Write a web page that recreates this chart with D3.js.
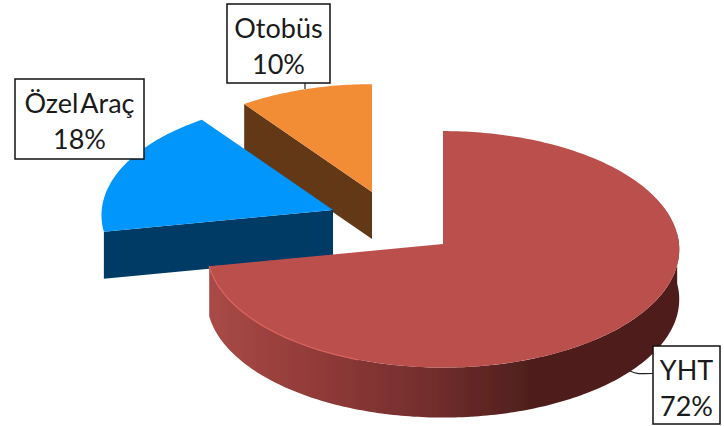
<!DOCTYPE html>
<html>
<head>
<meta charset="utf-8">
<script src="https://cdn.jsdelivr.net/npm/d3@7"></script>
<style>
  html, body { margin: 0; padding: 0; background: #fff; }
  svg { display: block; }
  text { font-family: Lato, "Noto Sans", sans-serif; font-size: 27px; fill: #1a1a1a; }
</style>
</head>
<body>
<script>
// chart values
var categories = ["YHT", "Özel Araç", "Otobüs"];
var shares = [72, 18, 10];
var valueLabels = ["72%", "18%", "10%"];

var width = 724,
    height = 426;

// pie look: each slice is pulled away from the centre by hand
var rx = 236,
    ry = 118,
    persp = 0.045;

var sliceStyle = [
    { apex: [443, 244], scale: 1, depth: 50, top: "#bb4f4c", side: "url(#wallRed)" },
    { apex: [333, 210], scale: 0.98, depth: 47, top: "#0096fb", side: "#003a66" },
    { apex: [372, 192], scale: 0.955, depth: 47, top: "#f28c36", side: "#643815" }
];

var boxes = [
    { x: 653, y: 346, w: 67, h: 78 },
    { x: 15, y: 79, w: 129, h: 80 },
    { x: 227, y: 4, w: 103, h: 79 }
];

var svg = d3.select("body").append("svg")
    .attr("width", width)
    .attr("height", height);

var defs = svg.append("defs");

var wall = defs.append("linearGradient")
    .attr("id", "wallRed")
    .attr("gradientUnits", "userSpaceOnUse")
    .attr("x1", 210).attr("y1", 0)
    .attr("x2", 680).attr("y2", 0);
[[0, "#a94a46"], [0.22, "#923b39"], [0.48, "#712d2c"], [0.68, "#4f1f1d"], [1, "#4f1f1d"]].forEach(function (s) {
    wall.append("stop").attr("offset", s[0]).attr("stop-color", s[1]);
});

defs.append("filter").attr("id", "soft")
    .append("feGaussianBlur").attr("stdDeviation", 0.7);

var pie = d3.pie().sort(null).startAngle(0).endAngle(2 * Math.PI);
var arcs = pie(shares);

// tilted disc with a little perspective, back of the pie comes out smaller
function project(a, st, drop) {
    var s = st.scale / (1 + persp * Math.cos(a));
    return [
        st.apex[0] + rx * s * Math.sin(a),
        st.apex[1] - ry * s * Math.cos(a) + (drop || 0)
    ];
}

function rim(a0, a1, st, drop) {
    var n = Math.max(2, Math.ceil(Math.abs(a1 - a0) * 60));
    return d3.range(n + 1).map(function (i) {
        return project(a0 + (a1 - a0) * i / n, st, drop);
    });
}

var line = d3.line();
var pies = svg.append("g").attr("filter", "url(#soft)");

// back slices first, red one goes on top
[2, 1, 0].forEach(function (i) {
    var d = arcs[i],
        st = sliceStyle[i],
        g = pies.append("g").attr("class", "slice");

    if (i === 0) {
        // outer wall of the big slice, only the front part shows
        var a0 = 85 * Math.PI / 180;
        var upper = rim(a0, d.endAngle, st, 0);
        var lower = rim(d.endAngle, a0, st, st.depth);
        g.append("path")
            .attr("d", line(upper.concat(lower)) + "Z")
            .attr("fill", st.side);
    } else {
        // cut face that looks at the viewer
        var outer = project(d.startAngle, st, 0);
        var outerLow = project(d.startAngle, st, st.depth);
        g.append("path")
            .attr("d", line([st.apex, outer, outerLow, [st.apex[0], st.apex[1] + st.depth]]) + "Z")
            .attr("fill", st.side);
    }

    g.append("path")
        .attr("d", line([st.apex].concat(rim(d.startAngle, d.endAngle, st, 0))) + "Z")
        .attr("fill", st.top);

    if (i === 0) {
        // light edge along the front left rim
        g.append("path")
            .attr("d", line(rim(200 * Math.PI / 180, d.endAngle, st, 0)))
            .attr("fill", "none")
            .attr("stroke", "#d8625d")
            .attr("stroke-width", 1.3);
    }
});

// leader lines
svg.append("path")
    .attr("d", d3.line().curve(d3.curveBasis)([[630, 371], [637, 374], [645, 373.5], [653, 373.5]]))
    .attr("fill", "none").attr("stroke", "#222").attr("stroke-width", 1.2);
svg.append("line")
    .attr("x1", 305).attr("x2", 305).attr("y1", 83).attr("y2", 89)
    .attr("stroke", "#222").attr("stroke-width", 1.2);

// label boxes
var labels = svg.selectAll("g.label")
    .data(categories)
    .enter().append("g")
    .attr("class", "label")
    .attr("transform", function (d, i) { return "translate(" + boxes[i].x + "," + boxes[i].y + ")"; });

labels.append("rect")
    .attr("width", function (d, i) { return boxes[i].w; })
    .attr("height", function (d, i) { return boxes[i].h; })
    .attr("fill", "#fff")
    .attr("stroke", "#111")
    .attr("stroke-width", 1.5);

labels.append("text")
    .attr("x", function (d, i) { return boxes[i].w / 2; })
    .attr("y", 34)
    .attr("text-anchor", "middle")
    .style("word-spacing", "-4px")
    .text(function (d) { return d; });

labels.append("text")
    .attr("x", function (d, i) { return boxes[i].w / 2; })
    .attr("y", 70)
    .attr("text-anchor", "middle")
    .text(function (d, i) { return valueLabels[i]; });
</script>
</body>
</html>
